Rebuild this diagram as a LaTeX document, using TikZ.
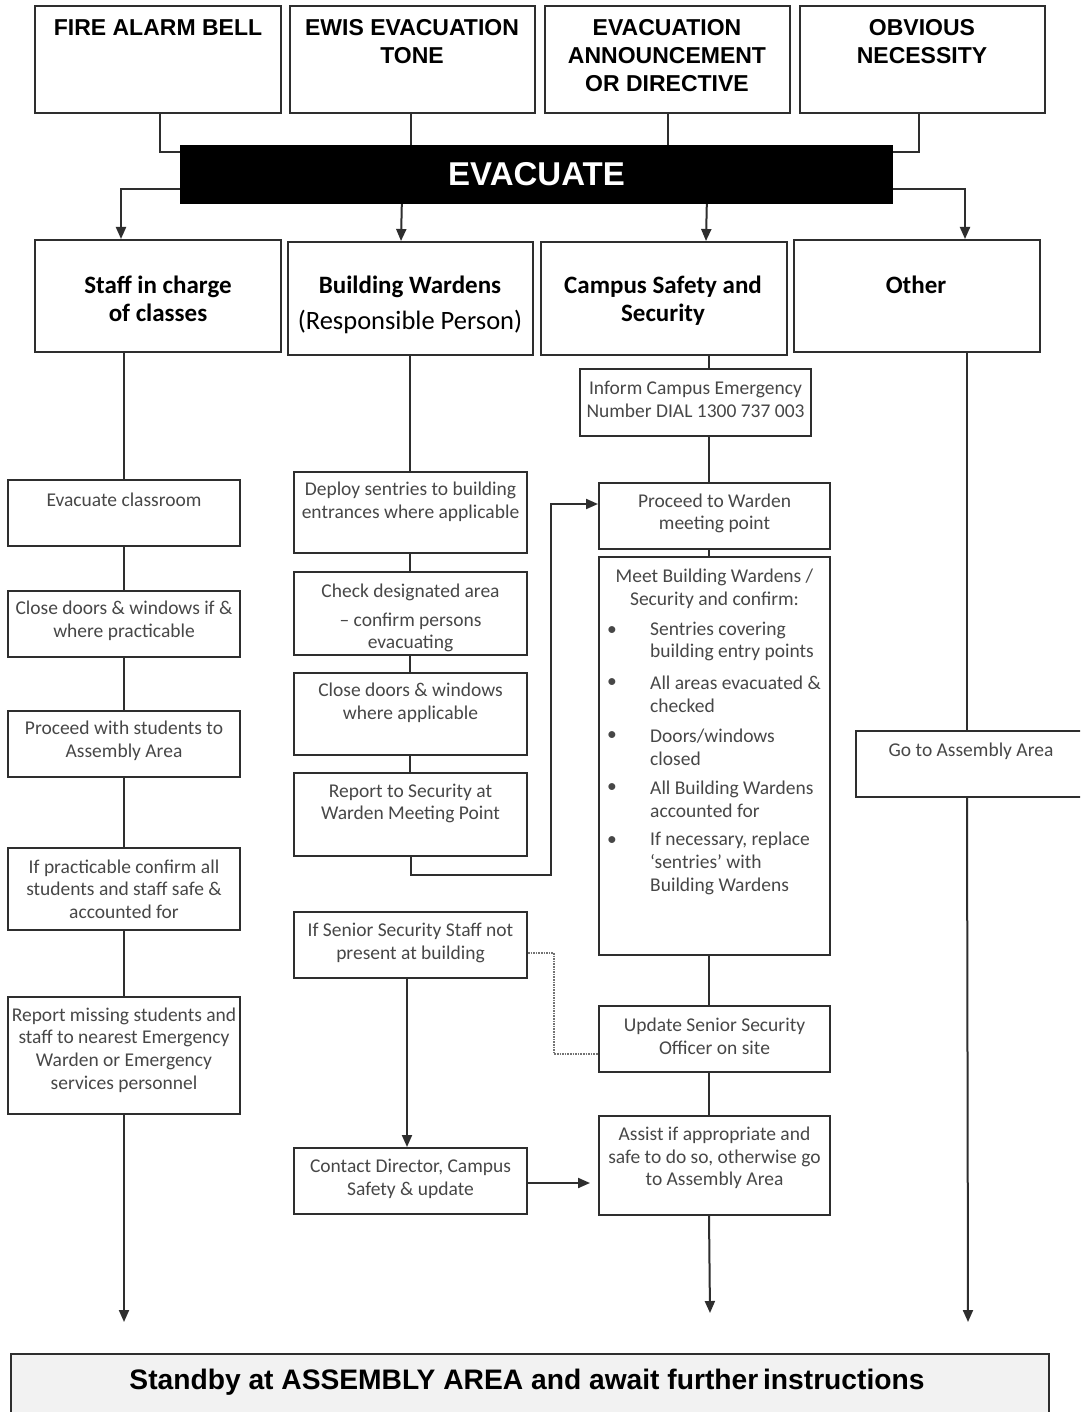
\documentclass[tikz,border=0pt]{standalone}
\usepackage{fontspec}
\setmainfont{Carlito}
\newfontfamily\arialf{Liberation Sans}
\usetikzlibrary{arrows.meta,calc}
\newcommand\mkbox[5]{\node[box, minimum width={(#4)-(#2)}, minimum height={(#5)-(#3)}] (#1) at ({((#2)+(#4))/2},{((#3)+(#5))/2}) {};}
\begin{document}
\begin{tikzpicture}[x=1pt,y=-1pt,
 box/.style={draw=black!82, line width=2pt, inner sep=0pt, fill=white},
 txt/.style={align=center, inner sep=0pt, text=black!72, font=\fontsize{19.5}{22.7}\selectfont},
 ltxt/.style={align=left, inner sep=0pt, anchor=west, text=black!72, font=\fontsize{19.5}{22.7}\selectfont},
 hd/.style={align=center, inner sep=0pt, font=\bfseries\fontsize{25}{28}\selectfont},
 toptxt/.style={align=center, inner sep=0pt, font=\arialf\bfseries\fontsize{23}{28}\selectfont},
 ln/.style={draw=black!82, line width=2pt},
 arr/.style={ln, -{Triangle[length=12pt,width=10pt]}},
 dots/.style={draw=black!55, line width=1.6pt, densely dotted},
]
\clip (0,0) rectangle (1080,1412);
\useasboundingbox (0,0) rectangle (1080,1412);
\fill[white] (0,0) rectangle (1080,1412);

% top row
\mkbox{t1}{35}{6}{281}{113}
\mkbox{t2}{290}{6}{535}{113}
\mkbox{t3}{545}{6}{790}{113}
\mkbox{t4}{800}{6}{1045}{113}
\node[toptxt] (t1t) at (158,28) {FIRE ALARM BELL};
\node[toptxt] (t2t) at (412,42) {EWIS EVACUATION\\TONE};
\node[toptxt] (t3t) at (667,56) {EVACUATION\\ANNOUNCEMENT\\OR DIRECTIVE};
\node[toptxt] (t4t) at (922,42) {OBVIOUS\\NECESSITY};

% evacuate
\node[fill=black, minimum width=713, minimum height=59, inner sep=0pt, text=white,
 font=\arialf\bfseries\fontsize{33}{33}\selectfont] (evac) at (536.5,174.5) {EVACUATE};

\draw[ln] ($(t1.south)+(2,0)$) |- ($(evac.north west)+(0,7)$);
\draw[ln] ($(t2.south)+(-2,0)$) -- ($(t2.south |- evac.north)+(-2,0)$);
\draw[ln] (t3.south) -- (t3.south |- evac.north);
\draw[ln] ($(t4.south)+(-4,0)$) |- ($(evac.north east)+(0,7)$);

% second row
\mkbox{s1}{35}{240}{281}{352}
\mkbox{s2}{288}{242}{533}{355}
\mkbox{s3}{541}{242}{787}{355}
\mkbox{s4}{794}{240}{1040}{352}
\node[hd] (s1t) at (158,299) {Staff in charge\\of classes};
\node[hd] (s2t) at (410,287) {Building Wardens};
\node[inner sep=0pt, font=\fontsize{26.5}{28}\selectfont] (s2u) at (410,322) {(Responsible Person)};
\node[hd] (s3t) at (663,301) {Campus Safety and\\Security};
\node[hd] (s4t) at (916,285) {Other};

\draw[arr] ($(evac.south west)+(0,-15)$) -| ($(s1.north west)+(87,0)$);
\draw[arr] ($(evac.south west)+(222,0)$) -- ($(s2.north west)+(114,0)$);
\draw[arr] ($(evac.south west)+(527,0)$) -- ($(s3.north west)+(166,0)$);
\draw[arr] ($(evac.south east)+(0,-15)$) -| ($(s4.north west)+(172,0)$);

% left column
\mkbox{l1}{8}{480}{240}{546}
\mkbox{l2}{8}{591}{240}{657}
\mkbox{l3}{8}{711}{240}{777}
\mkbox{l4}{8}{848}{240}{930}
\mkbox{l5}{8}{997}{240}{1114}
\node[txt] (l1t) at (124,500) {Evacuate classroom};
\node[txt] (l2t) at (124,621) {Close doors \& windows if \&\\where practicable};
\node[txt] (l3t) at (124,741) {Proceed with students to\\Assembly Area};
\node[txt] (l4t) at (124,889) {If practicable confirm all\\students and staff safe \&\\accounted for};
\node[txt] (l5t) at (124,1050) {Report missing students and\\staff to nearest Emergency\\Warden or Emergency\\services personnel};
\coordinate (e1) at (124,1322);
\draw[ln] (l1.north |- s1.south) -- (l1.north);
\draw[ln] (l1.south) -- (l2.north);
\draw[ln] (l2.south) -- (l3.north);
\draw[ln] (l3.south) -- (l4.north);
\draw[ln] (l4.south) -- (l5.north);
\draw[arr] (l5.south) -- (e1);

% middle column
\mkbox{m1}{294}{472}{527}{553}
\mkbox{m2}{294}{572}{527}{655}
\mkbox{m3}{294}{673}{527}{755}
\mkbox{m4}{294}{773}{527}{856}
\mkbox{m5}{294}{912}{527}{978}
\mkbox{m6}{294}{1148}{527}{1214}
\node[txt] (m1t) at (410.5,502) {Deploy sentries to building\\entrances where applicable};
\node[txt] (m2t) at (410.5,618) {Check designated area\\[6pt]– confirm persons\\evacuating};
\node[txt] (m3t) at (410.5,702.5) {Close doors \& windows\\where applicable};
\node[txt] (m4t) at (410.5,803.5) {Report to Security at\\Warden Meeting Point};
\node[txt] (m5t) at (410.5,943) {If Senior Security Staff not\\present at building};
\node[txt] (m6t) at (410.5,1178.5) {Contact Director, Campus\\Safety \& update};
\draw[ln] ($(m1.north |- s2.south)+(-0.5,0)$) -- ($(m1.north)+(-0.5,0)$);
\draw[ln] ($(m1.south)+(-0.5,0)$) -- ($(m2.north)+(-0.5,0)$);
\draw[ln] ($(m2.south)+(-0.5,0)$) -- ($(m3.north)+(-0.5,0)$);
\draw[ln] ($(m3.south)+(-0.5,0)$) -- ($(m4.north)+(-0.5,0)$);

% campus column
\mkbox{c0}{580}{369}{811}{436}
\mkbox{p1}{599}{483}{830}{549}
\mkbox{mt}{599}{557}{830}{955}
\mkbox{u1}{599}{1006}{830}{1072}
\mkbox{a1}{599}{1116}{830}{1215}
\node[txt] (c0t) at (695.5,399.5) {Inform Campus Emergency\\Number DIAL 1300 737 003};
\node[txt] (p1t) at (714.5,513.5) {Proceed to Warden\\meeting point};
\node[txt] (mtt) at (714.5,588.5) {Meet Building Wardens /\\Security and confirm:};
\node[txt] (b1) at (612,631) {•};
\node[txt] (b2) at (612,683) {•};
\node[txt] (b3) at (612,736) {•};
\node[txt] (b4) at (612,788) {•};
\node[txt] (b5) at (612,841) {•};
\node[ltxt] (i1) at (650,641.5) {Sentries covering\\building entry points};
\node[ltxt] (i2) at (650,694) {All areas evacuated \&\\checked};
\node[ltxt] (i3) at (650,747) {Doors/windows\\closed};
\node[ltxt] (i4) at (650,799) {All Building Wardens\\accounted for};
\node[ltxt] (i5) at (650,863.5) {If necessary, replace\\‘sentries’ with\\Building Wardens};
\node[txt] (u1t) at (714.5,1036.5) {Update Senior Security\\Officer on site};
\node[txt] (a1t) at (714.5,1158) {Assist if appropriate and\\safe to do so, otherwise go\\to Assembly Area};
\coordinate (e3) at (710,1313);
\draw[ln] ($(c0.north west)+(130,0)$) -- ($(s3.south west)+(169,0)$);
\draw[ln] ($(c0.south west)+(130,0)$) -- ($(p1.north west)+(111,0)$);
\draw[ln] ($(p1.south west)+(111,0)$) -- ($(mt.north west)+(111,0)$);
\draw[ln] ($(mt.south west)+(111,0)$) -- ($(u1.north west)+(111,0)$);
\draw[ln] ($(u1.south west)+(111,0)$) -- ($(a1.north west)+(111,0)$);
\draw[arr] ($(a1.south west)+(111,0)$) -- (e3);

% cross links
\draw[arr] ($(m4.south west)+(118,0)$) -- ++(0,18) -| ($(p1.north west)+(-47,22)$) -- ($(p1.north west)+(0,22)$);
\draw[arr] ($(m5.south west)+(114,0)$) -- ($(m6.north west)+(114,0)$);
\draw[arr, shorten >=8pt] ($(m6.east)+(0,2)$) -- ($(m6.east -| a1.west)+(0,2)$);
\draw[dots] ($(m5.east)+(0,8)$) -- ++(26,0) |- ($(u1.south west)+(0,-19)$);

% other column
\mkbox{g1}{856}{731}{1095}{797}
\node[txt] (g1t) at (971,751) {Go to Assembly Area};
\coordinate (e4) at (968,1322);
\draw[ln] ($(s4.south west)+(174,0)$) -- ($(g1.north west)+(112,0)$);
\draw[arr] ($(g1.south west)+(112,0)$) -- (e4);

% bottom banner
\node[draw=black!82, line width=2pt, fill=black!5, inner sep=0pt, minimum width=1038, minimum height=70] (sb) at (530,1389) {};
\node[inner sep=0pt, font=\arialf\bfseries\fontsize{28.2}{30}\selectfont] (sbt) at (527,1382) {Standby at ASSEMBLY AREA and await further\hspace{-3pt} instructions};
\end{tikzpicture}
\end{document}
